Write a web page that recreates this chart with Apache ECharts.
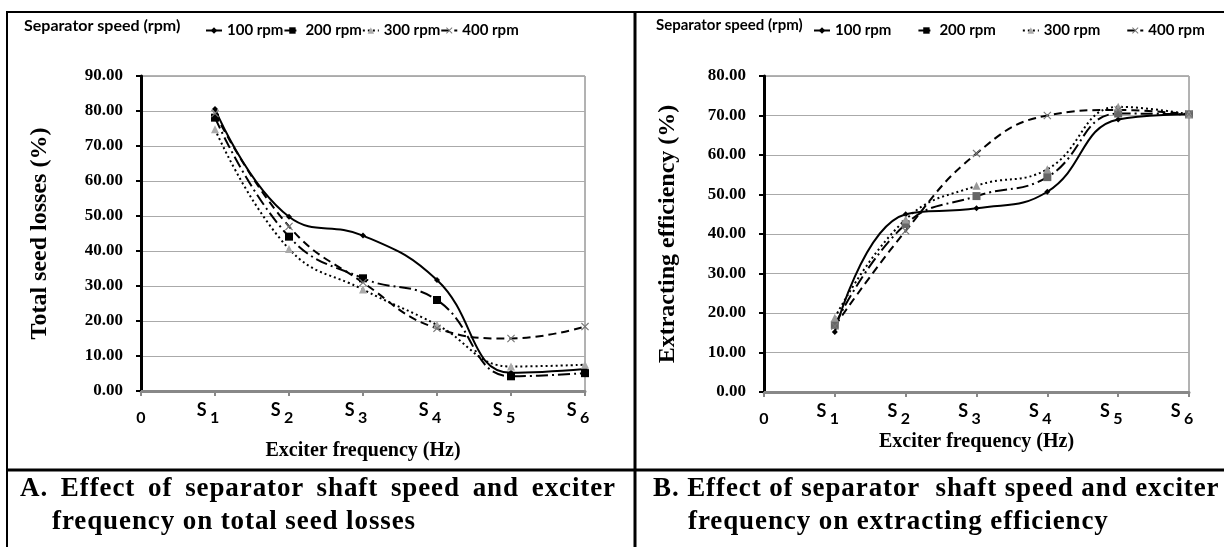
<!DOCTYPE html>
<html>
<head>
<meta charset="utf-8">
<script src="https://cdn.jsdelivr.net/npm/echarts@6/dist/echarts.min.js"></script>
<style>
  body { margin: 0; background: #fff; }
  #wrap { position: relative; width: 1224px; height: 547px; overflow: hidden; }
  #content { position: absolute; left: 0; top: 0; width: 1224px; height: 547px; }
  .cap { position: absolute; font-family: "Liberation Serif", "DejaVu Serif", serif; font-weight: bold;
         font-size: 27px; line-height: 33px; color: #000; white-space: nowrap; letter-spacing: 0.9px; }
  .just { text-align: justify; text-align-last: justify; }
</style>
</head>
<body>
<div id="wrap">
  <div id="content"></div>
  <div class="cap just" style="left:20px; top:471px; width:596px;">A. Effect of separator shaft speed and exciter</div>
  <div class="cap" style="left:52px; top:504px;">frequency on total seed losses</div>
  <div class="cap" style="left:653px; top:471px;">B. Effect of separator&nbsp; shaft speed and exciter</div>
  <div class="cap" style="left:688px; top:504px;">frequency on extracting efficiency</div>
</div>
<script>
// 数据
var stages = [1, 2, 3, 4, 5, 6];
var stageLabels = ['0', '1', '2', '3', '4', '5', '6'];
var speeds = ['100 rpm', '200 rpm', '300 rpm', '400 rpm'];

// A: total seed losses (%)
var loss100 = [80.6, 49.8, 44.4, 31.7, 5.2, 6.3];
var loss200 = [78.1, 44.1, 32.2, 26.0, 4.2, 5.1];
var loss300 = [74.8, 40.6, 29.0, 18.9, 7.0, 7.5];
var loss400 = [79.3, 47.0, 31.0, 17.9, 15.0, 18.4];

// B: extracting efficiency (%)
var eff100 = [15.2, 45.0, 46.5, 50.7, 69.0, 70.3];
var eff200 = [17.0, 42.5, 49.6, 54.4, 70.5, 70.3];
var eff300 = [18.8, 43.7, 52.2, 56.4, 72.2, 70.3];
var eff400 = [16.7, 40.8, 60.4, 70.0, 71.4, 70.3];

var myChart = echarts.init(document.getElementById('content'));

var crossPath = 'path://M0,1L1,0L5,4L9,0L10,1L6,5L10,9L9,10L5,6L1,10L0,9L4,5Z';
var serif = '"Liberation Serif", "DejaVu Serif", serif';
var sans = 'Lato, "Open Sans", sans-serif';

function pairs(vals) {
    return stages.map(function (s, i) { return [s, vals[i]]; });
}

// 每条线的样式
var styles = [
    { dash: 'solid', symbol: 'diamond', size: 6, color: '#000', colorB: '#000' },
    { dash: [12, 4, 2, 4], symbol: 'rect', size: 8, color: '#000', colorB: '#666' },
    { dash: [2, 3], symbol: 'triangle', size: 8, color: '#aaa', colorB: '#999' },
    { dash: [8, 5], symbol: crossPath, size: 8, color: '#777', colorB: '#777' }
];

function makeSeries(data, idx, right) {
    return data.map(function (vals, i) {
        var st = styles[i];
        return {
            name: speeds[i],
            type: 'line',
            xAxisIndex: idx,
            yAxisIndex: idx,
            smooth: 0.45,
            data: pairs(vals),
            symbol: st.symbol,
            symbolSize: st.size,
            showSymbol: true,
            lineStyle: { color: '#000', width: 2, type: st.dash },
            itemStyle: { color: right ? st.colorB : st.color, borderWidth: 0 },
            z: 3
        };
    });
}

function xAxisFor(idx, gap) {
    return {
        gridIndex: idx,
        type: 'value',
        min: 0,
        max: 6,
        interval: 1,
        name: 'Exciter frequency (Hz)',
        nameLocation: 'middle',
        nameGap: gap,
        nameTextStyle: { fontFamily: serif, fontWeight: 'bold', fontSize: 20, color: '#000' },
        axisLine: { lineStyle: { color: '#888', width: 3 } },
        axisTick: { lineStyle: { color: '#888', width: 2 }, length: 5 },
        splitLine: { show: false },
        axisLabel: {
            margin: 3,
            formatter: function (v) {
                var t = stageLabels[v];
                return v === 0 ? '{d|0}' : '{s|S} {d|' + t + '}{p|}';
            },
            rich: {
                s: { fontFamily: sans, fontWeight: 'bold', fontSize: 18, color: '#000' },
                d: { fontFamily: sans, fontWeight: 'bold', fontSize: 16, color: '#000', padding: [16, 0, 0, 0] },
                p: { width: 14 }
            }
        }
    };
}

function yAxisFor(idx, max, name, gap) {
    return {
        gridIndex: idx,
        type: 'value',
        min: 0,
        max: max,
        interval: 10,
        name: name,
        nameLocation: 'middle',
        nameGap: gap,
        nameTextStyle: { fontFamily: serif, fontWeight: 'bold', fontSize: 24, color: '#000' },
        axisLine: { show: true, lineStyle: { color: '#000', width: 3 } },
        axisTick: { show: true, lineStyle: { color: '#000', width: 2 }, length: 5 },
        splitLine: { lineStyle: { color: '#aaa', width: 1 } },
        axisLabel: {
            margin: 18,
            fontFamily: serif, fontWeight: 'bold', fontSize: 17, color: '#000',
            formatter: function (v) { return v.toFixed(2); }
        }
    };
}

var legendText = { fontFamily: sans, fontWeight: 'bold', fontSize: 15, color: '#000' };

var option = {
    animation: false,
    grid: [
        { left: 141, right: 639, top: 76, bottom: 156, show: true, borderColor: '#666', borderWidth: 1 },
        { left: 764, right: 35, top: 76, bottom: 155, show: true, borderColor: '#666', borderWidth: 1 }
    ],
    legend: [
        { left: 200, top: 18, data: speeds, itemWidth: 16, itemHeight: 8, itemGap: 0, textStyle: legendText },
        { left: 808, top: 18, data: speeds, itemWidth: 16, itemHeight: 8, itemGap: 26, textStyle: legendText }
    ],
    xAxis: [xAxisFor(0, 50), xAxisFor(1, 39)],
    yAxis: [
        yAxisFor(0, 90, 'Total seed losses (%)', 89),
        yAxisFor(1, 80, 'Extracting efficiency (%)', 84)
    ],
    graphic: [
        { type: 'text', left: 24, top: 18, style: { text: 'Separator speed (rpm)', font: 'bold 16px ' + sans, fill: '#000' } },
        { type: 'text', left: 656, top: 18, style: { text: 'Separator speed (rpm)', font: 'bold 15px ' + sans, fill: '#000' } },
        // 表格边框
        { type: 'line', shape: { x1: 6, y1: 12, x2: 1224, y2: 12 }, style: { stroke: '#000', lineWidth: 2 } },
        { type: 'line', shape: { x1: 7, y1: 12, x2: 7, y2: 547 }, style: { stroke: '#000', lineWidth: 2 } },
        { type: 'line', shape: { x1: 635, y1: 12, x2: 635, y2: 547 }, style: { stroke: '#000', lineWidth: 3 } },
        { type: 'line', shape: { x1: 6, y1: 470, x2: 1224, y2: 470 }, style: { stroke: '#000', lineWidth: 3 } }
    ],
    series: makeSeries([loss100, loss200, loss300, loss400], 0, false)
        .concat(makeSeries([eff100, eff200, eff300, eff400], 1, true))
};

myChart.setOption(option);
</script>
</body>
</html>
